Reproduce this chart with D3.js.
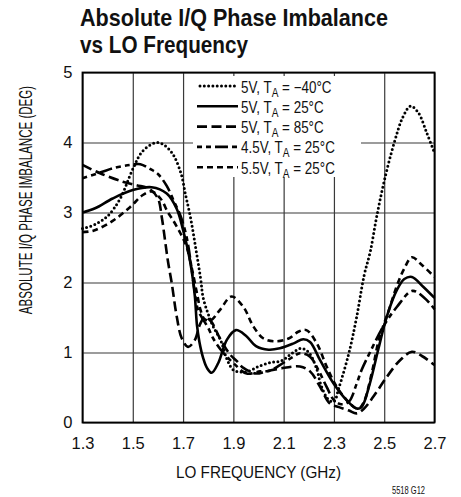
<!DOCTYPE html>
<html>
<head>
<meta charset="utf-8">
<script src="https://cdn.jsdelivr.net/npm/d3@7"></script>
<style>
  body { margin: 0; background: #fff; }
  svg { display: block; }
  text { font-family: 'Liberation Sans', Arial, sans-serif; fill: #111; }
</style>
</head>
<body>
<div id="chart"></div>
<script>
// ---- data ----
const xTicks = [1.3, 1.5, 1.7, 1.9, 2.1, 2.3, 2.5, 2.7];
const yTicks = [0, 1, 2, 3, 4, 5];

// [LO frequency (GHz), phase imbalance (deg)]
const m40 = [[1.30,2.77],[1.35,2.83],[1.40,2.95],[1.45,3.2],[1.50,3.62],[1.54,3.88],[1.60,4.0],[1.65,3.88],
  [1.69,3.58],[1.71,3.25],[1.73,2.92],[1.75,2.5],[1.77,2.05],[1.78,1.78],[1.80,1.55],[1.82,1.37],[1.85,1.17],
  [1.875,0.9],[1.90,0.75],[1.93,0.72],[1.96,0.73],[2.0,0.8],[2.05,0.86],[2.09,0.88],[2.13,0.98],[2.17,1.06],
  [2.20,1.0],[2.23,0.78],[2.25,0.52],[2.28,0.32],[2.30,0.3],[2.32,0.5],[2.36,1.0],[2.39,1.5],[2.42,2.1],
  [2.445,2.45],[2.47,2.94],[2.50,3.45],[2.54,4.0],[2.575,4.37],[2.605,4.52],[2.635,4.43],[2.67,4.13],[2.70,3.85]];

const t25 = [[1.30,3.0],[1.35,3.06],[1.42,3.2],[1.50,3.32],[1.575,3.36],[1.635,3.27],[1.675,3.05],[1.70,2.75],
  [1.72,2.45],[1.735,2.15],[1.747,1.8],[1.755,1.4],[1.765,1.15],[1.78,0.92],[1.795,0.78],[1.814,0.71],[1.84,0.85],
  [1.874,1.18],[1.91,1.32],[1.95,1.24],[1.99,1.09],[2.04,1.04],[2.085,1.06],[2.14,1.13],[2.178,1.19],[2.205,1.15],
  [2.245,0.89],[2.298,0.56],[2.35,0.32],[2.39,0.2],[2.41,0.22],[2.443,0.56],[2.476,1.04],[2.51,1.51],[2.55,1.89],
  [2.58,2.05],[2.61,2.08],[2.655,1.94],[2.70,1.78]];

const t85 = [[1.30,3.68],[1.37,3.56],[1.46,3.44],[1.515,3.39],[1.565,3.34],[1.60,3.2],[1.615,2.94],[1.628,2.61],
  [1.64,2.3],[1.655,1.99],[1.675,1.51],[1.695,1.2],[1.72,1.08],[1.747,1.18],[1.767,1.4],[1.785,1.5],[1.81,1.45],
  [1.847,1.2],[1.887,0.97],[1.913,0.88],[1.94,0.78],[1.99,0.7],[2.03,0.73],[2.085,0.77],[2.165,0.8],[2.205,0.73],
  [2.245,0.51],[2.284,0.27],[2.32,0.22],[2.36,0.17],[2.39,0.13],[2.42,0.2],[2.457,0.37],[2.51,0.65],[2.563,0.89],
  [2.61,1.01],[2.65,0.95],[2.70,0.82]];

const v45 = [[1.30,3.49],[1.37,3.57],[1.43,3.64],[1.49,3.68],[1.53,3.69],[1.57,3.62],[1.60,3.55],[1.635,3.38],
  [1.665,3.15],[1.69,2.95],[1.714,2.65],[1.73,2.3],[1.745,1.9],[1.76,1.6],[1.775,1.5],[1.80,1.35],[1.82,1.2],
  [1.85,1.04],[1.874,0.94],[1.90,0.85],[1.953,0.7],[2.006,0.73],[2.046,0.74],[2.085,0.82],[2.138,0.94],[2.165,0.99],
  [2.205,0.94],[2.238,0.75],[2.271,0.51],[2.30,0.32],[2.33,0.26],[2.36,0.3],[2.39,0.55],[2.41,0.75],[2.443,1.0],
  [2.496,1.37],[2.55,1.65],[2.612,1.88],[2.66,1.78],[2.70,1.62]];

const v55 = [[1.30,2.72],[1.343,2.74],[1.42,2.88],[1.49,3.08],[1.54,3.25],[1.575,3.3],[1.61,3.2],[1.64,3.0],
  [1.66,2.89],[1.69,2.7],[1.714,2.51],[1.735,2.2],[1.755,1.85],[1.77,1.6],[1.785,1.48],[1.81,1.46],[1.847,1.61],
  [1.893,1.8],[1.94,1.65],[1.98,1.37],[2.02,1.2],[2.07,1.16],[2.12,1.2],[2.16,1.3],[2.19,1.32],[2.232,1.13],
  [2.271,0.8],[2.311,0.51],[2.351,0.32],[2.38,0.22],[2.40,0.2],[2.42,0.3],[2.45,0.7],[2.48,1.2],[2.52,1.62],
  [2.55,1.95],[2.58,2.2],[2.61,2.36],[2.65,2.25],[2.70,2.08]];

const seriesData = [m40, t25, t85, v45, v55];
const seriesVolt = ["5V", "5V", "5V", "4.5V", "5.5V"];
const seriesTemp = ["\u221240\u00b0C", "25\u00b0C", "85\u00b0C", "25\u00b0C", "25\u00b0C"];
const seriesDash = ["0 4.3", null, "10 4.5", "5 4 5 4 13 4", "6 4"];

// ---- layout ----
const W = 461, H = 497;
const plot = {left: 82.5, right: 434.5, top: 72.5, bottom: 422.5};

const x = d3.scaleLinear().domain([1.3, 2.7]).range([plot.left, plot.right]);
const y = d3.scaleLinear().domain([0, 5]).range([plot.bottom, plot.top]);

const svg = d3.select("#chart").append("svg")
    .attr("width", W)
    .attr("height", H);

// title (condensed face squeezed to the reference widths)
svg.append("text").attr("x", 80).attr("y", 26)
    .style("font-size", "24px").style("font-weight", "bold")
    .attr("textLength", 308).attr("lengthAdjust", "spacingAndGlyphs")
    .text("Absolute I/Q Phase Imbalance");
svg.append("text").attr("x", 80).attr("y", 53)
    .style("font-size", "24px").style("font-weight", "bold")
    .attr("textLength", 168).attr("lengthAdjust", "spacingAndGlyphs")
    .text("vs LO Frequency");

// grid
const gridX = svg.append("g")
    .attr("transform", `translate(0,${plot.bottom})`)
    .call(d3.axisBottom(x).tickValues(xTicks).tickSize(-(plot.bottom - plot.top)).tickFormat(""));
const gridY = svg.append("g")
    .attr("transform", `translate(${plot.left},0)`)
    .call(d3.axisLeft(y).tickValues(yTicks).tickSize(-(plot.right - plot.left)).tickFormat(""));
[gridX, gridY].forEach(g => {
  g.select(".domain").remove();
  g.selectAll("line").attr("stroke", "#3a3a3a").attr("stroke-width", 1.2);
});

// curves
const line = d3.line()
    .x(d => x(d[0]))
    .y(d => y(d[1]))
    .curve(d3.curveCatmullRom.alpha(0.5));

const gLines = svg.append("g").attr("fill", "none").attr("stroke", "#000");
seriesData.forEach((s, i) => {
  gLines.append("path")
      .attr("d", line(s))
      .attr("stroke-width", i === 0 ? 3 : 2.6)
      .attr("stroke-linecap", i === 0 ? "round" : "butt")
      .attr("stroke-dasharray", seriesDash[i]);
});

// frame
svg.append("rect")
    .attr("x", plot.left).attr("y", plot.top)
    .attr("width", plot.right - plot.left).attr("height", plot.bottom - plot.top)
    .attr("fill", "none").attr("stroke", "#000").attr("stroke-width", 1.8);

// legend
const leg = svg.append("g");
leg.append("rect").attr("x", 193).attr("y", 76).attr("width", 168).attr("height", 101).attr("fill", "#fff");
seriesData.forEach((s, i) => {
  const cy = 86 + i * 20.3;
  leg.append("line")
      .attr("x1", i === 0 ? 200 : 197).attr("x2", 238)
      .attr("y1", cy).attr("y2", cy)
      .attr("stroke", "#000")
      .attr("stroke-width", i === 0 ? 3 : 2.6)
      .attr("stroke-linecap", i === 0 ? "round" : "butt")
      .attr("stroke-dasharray", seriesDash[i]);
  const t = leg.append("text")
      .attr("transform", `translate(241,${cy + 6.5}) scale(0.84,1)`)
      .style("font-size", "16px");
  t.append("tspan").text(seriesVolt[i] + ", T");
  t.append("tspan").attr("dy", 4).style("font-size", "12px").text("A");
  t.append("tspan").attr("dy", -4).text(" = " + seriesTemp[i]);
});

// tick labels
const axX = svg.append("g")
    .attr("transform", `translate(0,${plot.bottom})`)
    .call(d3.axisBottom(x).tickValues(xTicks).tickSize(0).tickPadding(15).tickFormat(d3.format(".1f")));
const axY = svg.append("g")
    .attr("transform", `translate(${plot.left},0)`)
    .call(d3.axisLeft(y).tickValues(yTicks).tickSize(0).tickPadding(10).tickFormat(d3.format("d")));
[axX, axY].forEach(g => {
  g.select(".domain").remove();
  g.selectAll("text").style("font-size", "16.5px").style("font-family", null).attr("fill", "#111");
});

// axis titles
svg.append("text")
    .attr("x", 176).attr("y", 478)
    .style("font-size", "17px")
    .attr("textLength", 165).attr("lengthAdjust", "spacingAndGlyphs")
    .text("LO FREQUENCY (GHz)");
svg.append("text")
    .attr("transform", "translate(32,200) rotate(-90) scale(0.66,1)")
    .attr("text-anchor", "middle")
    .style("font-size", "17.5px")
    .text("ABSOLUTE I/Q PHASE IMBALANCE (DEG)");

svg.append("text")
    .attr("x", 392).attr("y", 494)
    .style("font-size", "10px")
    .attr("textLength", 33).attr("lengthAdjust", "spacingAndGlyphs")
    .text("5518 G12");
</script>
</body>
</html>
